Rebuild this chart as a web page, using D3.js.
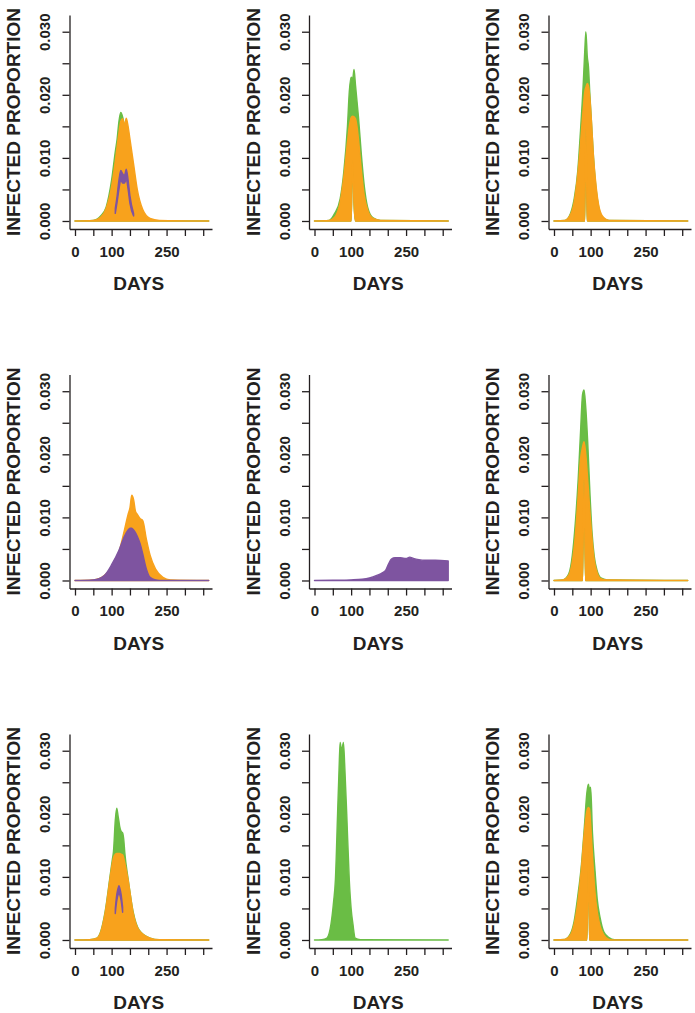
<!DOCTYPE html>
<html>
<head>
<meta charset="utf-8">
<script src="https://cdn.jsdelivr.net/npm/d3@7"></script>
<style>
  body { margin: 0; background: #fff; }
  svg { display: block; }
  .axis path, .axis line { stroke: #231f20; stroke-width: 1.3; }
  .axis text { fill: #231f20; font-family: "Liberation Sans", Arial, sans-serif; font-weight: bold; font-size: 15px; }
  .lab { fill: #231f20; font-family: "Liberation Sans", Arial, sans-serif; font-weight: bold; }
</style>
</head>
<body>
<script>
const WIDTH = 695;
const HEIGHT = 1013;

// tick values / labels (R skips the labels that would overlap)
const xTicks = [0, 50, 100, 150, 200, 250, 300, 350];
const xTickLabels = ['0', '', '100', '', '', '250', '', ''];
const yTicks = [0, 0.005, 0.01, 0.015, 0.02, 0.025, 0.03];
const yTickLabels = ['0.000', '', '0.010', '', '0.020', '', '0.030'];

// day grid for each of the 9 panels (row by row)
const days = [
  [0, 50, 70, 85, 100, 110, 115, 120, 125, 130, 135, 140, 145, 150, 160, 170, 185, 205, 230, 365],
  [0, 40, 55, 70, 80, 90, 95, 100, 104, 108, 112, 116, 120, 128, 136, 145, 160, 180, 365],
  [0, 30, 45, 55, 65, 72, 80, 84, 87, 91, 94, 98, 102, 108, 115, 122, 132, 150, 365],
  [0, 50, 80, 100, 120, 135, 145, 150, 155, 160, 165, 170, 178, 185, 195, 205, 220, 240, 260, 365],
  [0, 60, 100, 130, 150, 170, 185, 195, 202, 210, 220, 235, 250, 260, 270, 285, 300, 330, 365],
  [0, 25, 40, 50, 58, 66, 72, 78, 82, 86, 92, 98, 104, 110, 118, 128, 145, 365],
  [0, 40, 60, 70, 82, 95, 102, 105, 110, 114, 118, 120, 122, 126, 130, 133, 136, 145, 159, 175, 205, 230, 365],
  [0, 20, 34, 45, 52, 57, 63, 67, 70, 74, 79, 83, 88, 95, 100, 105, 111, 125, 365],
  [0, 30, 45, 55, 65, 75, 83, 90, 94, 97, 100, 105, 112, 118, 126, 136, 150, 165, 365]
];

// upper edge of each ensemble (infected proportion), null = series not in panel
const greenHi = [
  [0, 0.0001, 0.0008, 0.0022, 0.0065, 0.011, 0.013, 0.0158, 0.0172, 0.0165, 0.015, 0.013, 0.011, 0.009, 0.0055, 0.003, 0.0011, 0.0002, 0, 0],
  [0, 0.0001, 0.0012, 0.0035, 0.0078, 0.015, 0.0205, 0.0228, 0.0225, 0.024, 0.0215, 0.019, 0.0165, 0.0105, 0.0055, 0.0022, 0.0005, 0.0001, 0],
  [0, 0.0001, 0.0012, 0.0035, 0.008, 0.014, 0.022, 0.027, 0.03, 0.026, 0.0245, 0.02, 0.016, 0.01, 0.005, 0.0022, 0.0006, 0.0001, 0],
  null,
  null,
  [0, 0.0001, 0.001, 0.004, 0.009, 0.016, 0.023, 0.0295, 0.0302, 0.028, 0.022, 0.014, 0.0075, 0.0038, 0.0015, 0.0004, 0.0001, 0],
  [0, 0.00005, 0.0003, 0.0013, 0.0044, 0.0098, 0.0128, 0.014, 0.019, 0.0209, 0.0195, 0.0188, 0.018, 0.0172, 0.017, 0.016, 0.0138, 0.0097, 0.0044, 0.0016, 0.0003, 0.00005, 0],
  [0, 0.00005, 0.0003, 0.0025, 0.006, 0.0095, 0.02, 0.027, 0.0313, 0.03, 0.0313, 0.027, 0.02, 0.0095, 0.005, 0.0025, 0.0003, 0.00005, 0],
  [0, 0.0001, 0.001, 0.003, 0.007, 0.012, 0.018, 0.0235, 0.0247, 0.0238, 0.0242, 0.017, 0.011, 0.0065, 0.0035, 0.0013, 0.0004, 0.00005, 0]
];

const orangeHi = [
  [0, 0.0001, 0.0006, 0.002, 0.0055, 0.0095, 0.0118, 0.014, 0.0158, 0.0162, 0.0152, 0.0163, 0.015, 0.013, 0.009, 0.005, 0.0018, 0.0004, 0.0001, 0],
  [0, 0.0001, 0.0006, 0.003, 0.007, 0.0125, 0.015, 0.0164, 0.0166, 0.0165, 0.0162, 0.015, 0.013, 0.008, 0.004, 0.0018, 0.0004, 0.0001, 0],
  [0, 0.0001, 0.001, 0.003, 0.0075, 0.012, 0.018, 0.0205, 0.0212, 0.0218, 0.0214, 0.0195, 0.016, 0.01, 0.0055, 0.0025, 0.0008, 0.0001, 0],
  [0, 0.0001, 0.0008, 0.002, 0.0045, 0.008, 0.0105, 0.0115, 0.0135, 0.0128, 0.011, 0.0105, 0.0098, 0.0095, 0.0065, 0.004, 0.0018, 0.0005, 0.0001, 0],
  null,
  [0, 0.0001, 0.0008, 0.003, 0.007, 0.0135, 0.019, 0.0212, 0.022, 0.0205, 0.016, 0.011, 0.0065, 0.0032, 0.0012, 0.0003, 0.0001, 0],
  [0, 0.00005, 0.0003, 0.0012, 0.0042, 0.0095, 0.0122, 0.013, 0.0136, 0.0137, 0.0137, 0.0137, 0.0137, 0.0136, 0.0135, 0.013, 0.0122, 0.0095, 0.0042, 0.0015, 0.0003, 0.00005, 0],
  null,
  [0, 0.0001, 0.0008, 0.0025, 0.006, 0.0115, 0.0172, 0.0205, 0.021, 0.0208, 0.0185, 0.0135, 0.0075, 0.0045, 0.0022, 0.0008, 0.0001, 0, 0]
];

// lower edge: the thin white gap under the lowest runs (null = down to zero)
const orangeLo = [
  null,
  [0, 0, 0, 0, 0, 0, 0, 0, 0.0095, 0.0025, 0, 0, 0, 0, 0, 0, 0, 0, 0],
  [0, 0, 0, 0, 0, 0, 0, 0, 0.0145, 0, 0, 0, 0, 0, 0, 0, 0, 0, 0],
  null,
  null,
  [0, 0, 0, 0, 0, 0, 0, 0, 0.016, 0, 0, 0, 0, 0, 0, 0, 0, 0],
  null,
  null,
  [0, 0, 0, 0, 0, 0, 0, 0, 0.014, 0, 0, 0, 0, 0, 0, 0, 0, 0, 0]
];
const greenLo = orangeLo; // same gap shows through both ensembles

const purpleHi = [
  [null, null, null, null, null, 0.002, 0.004, 0.0065, 0.008, 0.0075, 0.0072, 0.0082, 0.0065, 0.004, 0.0012, null, null, null, null, null],
  null,
  null,
  [0, 0.0001, 0.0008, 0.0025, 0.0048, 0.007, 0.008, 0.0083, 0.0083, 0.008, 0.0076, 0.007, 0.0058, 0.0042, 0.0018, 0.0005, 0.0001, 0, 0, 0],
  [0, 0.00005, 0.0001, 0.0002, 0.0004, 0.0008, 0.0012, 0.0017, 0.0026, 0.0034, 0.0036, 0.0036, 0.0035, 0.0037, 0.0035, 0.0033, 0.0032, 0.0032, 0.0031],
  null,
  [null, null, null, null, null, null, null, null, 0.005, 0.0072, 0.0083, 0.0086, 0.0083, 0.0072, 0.0052, null, null, null, null, null, null, null, null],
  null,
  null
];

const purpleLo = [
  [null, null, null, null, null, 0.0012, 0.003, 0.005, 0.0065, 0.006, 0.006, 0.0066, 0.005, 0.0028, 0.0008, null, null, null, null, null],
  null,
  null,
  null,
  null,
  null,
  [null, null, null, null, null, null, null, null, 0.0042, 0.0062, 0.0072, 0.0074, 0.0072, 0.0062, 0.0044, null, null, null, null, null, null, null, null],
  null,
  null
];

const seriesColors = ['#6abd45', '#f8a21c', '#7e54a0'];
const seriesHi = [greenHi, orangeHi, purpleHi];
const seriesLo = [greenLo, orangeLo, purpleLo];

// layout of the 3x3 grid
const LEFT0 = 69.5;
const COL_STEP = 239.5;
const TOP0 = 15;
const ROW_STEP = 359.5;
const PW = 142.5;
const PH = 214;

const svg = d3.select('body').append('svg').attr('width', WIDTH).attr('height', HEIGHT);

const x = d3.scaleLinear().domain([-15, 374]).range([0, PW]);
const y = d3.scaleLinear().domain([-0.00127, 0.03265]).range([PH, 0]);

const area = d3.area()
  .defined(d => d.hi != null)
  .x(d => x(d.day))
  .y0(d => y(d.lo))
  .y1(d => y(d.hi))
  .curve(d3.curveMonotoneX);

days.forEach((dd, p) => {
  const col = p % 3;
  const row = Math.floor(p / 3);
  const g = svg.append('g')
    .attr('transform', `translate(${LEFT0 + col * COL_STEP},${TOP0 + row * ROW_STEP})`);

  // ensembles: green, then orange, then purple on top
  seriesHi.forEach((hiArr, s) => {
    const hi = hiArr[p];
    if (!hi) return;
    const lo = seriesLo[s][p];
    const pts = dd.map((day, i) => ({day, hi: hi[i], lo: lo ? (lo[i] == null ? 0 : lo[i]) : 0}));
    g.append('path')
      .attr('d', area(pts))
      .attr('fill', seriesColors[s])
      .attr('stroke', seriesColors[s])
      .attr('stroke-width', 1.4)
      .attr('stroke-linejoin', 'round');
  });

  const xAxis = g.append('g')
    .attr('class', 'axis')
    .attr('transform', `translate(0,${PH})`)
    .call(d3.axisBottom(x).tickValues(xTicks).tickFormat((d, i) => xTickLabels[i])
      .tickSize(7).tickSizeOuter(0).tickPadding(10));
  xAxis.attr('font-size', null).attr('font-family', null);

  const yAxis = g.append('g')
    .attr('class', 'axis')
    .call(d3.axisLeft(y).tickValues(yTicks).tickFormat((d, i) => yTickLabels[i])
      .tickSize(7).tickSizeOuter(0));
  yAxis.attr('font-size', null).attr('font-family', null);
  yAxis.selectAll('.tick text')
    .attr('transform', 'rotate(-90)')
    .attr('x', 0)
    .attr('y', -19.5)
    .attr('dy', null)
    .attr('text-anchor', 'middle');

  g.append('text')
    .attr('class', 'lab')
    .attr('x', PW / 2 - 2)
    .attr('y', PH + 61)
    .attr('text-anchor', 'middle')
    .attr('font-size', 19)
    .text('DAYS');

  g.append('text')
    .attr('class', 'lab')
    .attr('transform', `translate(-49.5,${PH / 2}) rotate(-90)`)
    .attr('text-anchor', 'middle')
    .attr('font-size', 19)
    .text('INFECTED PROPORTION');
});
</script>
</body>
</html>
